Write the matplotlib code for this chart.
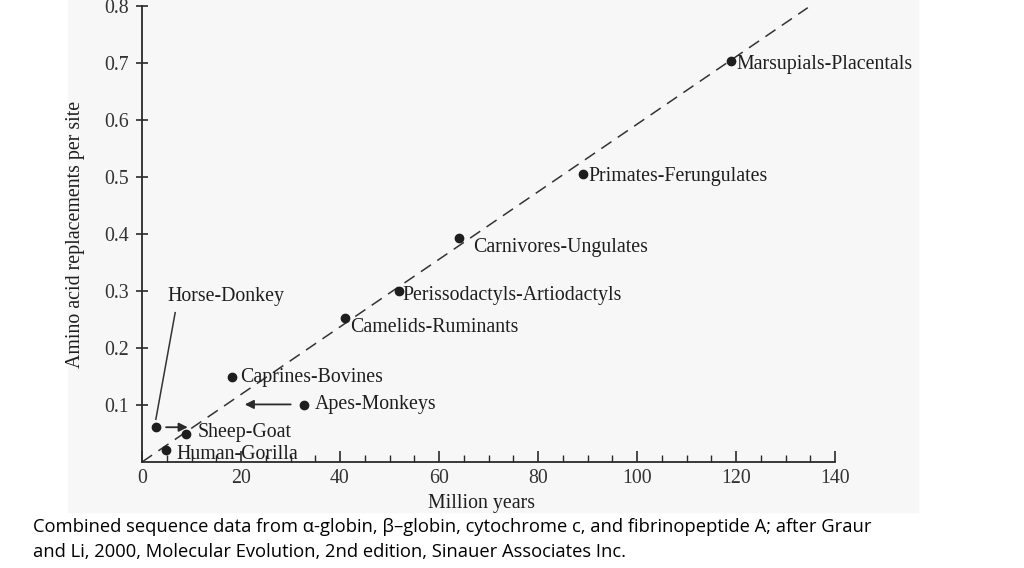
import matplotlib
matplotlib.use("Agg")
import matplotlib.pyplot as plt
from matplotlib.patches import Rectangle

# divergence data (million years, replacements per site)
pairs = ["Human-Gorilla", "Sheep-Goat", "Horse-Donkey", "Caprines-Bovines",
         "Apes-Monkeys", "Camelids-Ruminants", "Perissodactyls-Artiodactyls",
         "Carnivores-Ungulates", "Primates-Ferungulates", "Marsupials-Placentals"]
mya = [4.8, 8.9, 2.8, 18.2, 32.7, 41.0, 52.0, 64.0, 89.0, 119.0]
aa_rep = [0.021, 0.050, 0.061, 0.149, 0.100, 0.253, 0.300, 0.393, 0.505, 0.703]
# label offsets in points (dx, dy)
label_off = [(8, -3.5), (8, 1), None, (6, 0), (8, 0), (4, -7), (2, -3),
             (10, -7), (4, -2), (4, -2)]

fit_x = [0, 134.5]
fit_y = [0, 0.797]

xticks = [0, 20, 40, 60, 80, 100, 120, 140]
yticks = [0.1, 0.2, 0.3, 0.4, 0.5, 0.6, 0.7, 0.8]

serif = ["Liberation Serif", "DejaVu Serif"]
fs = 14.3
ink = "#1e1e1e"

W, H = 1024, 568
fig = plt.figure(figsize=(W / 100, H / 100), dpi=100)
fig.patches.append(Rectangle((68 / W, 1 - 512 / H), (918 - 68) / W, 512 / H,
                             transform=fig.transFigure, color="#f7f7f7", zorder=-5))

ax = fig.add_axes([142 / W, (H - 462) / H, (835 - 142) / W, (462 - 6) / H])
ax.patch.set_alpha(0)
ax.set_xlim(0, 140)
ax.set_ylim(0, 0.8)
for s in ["top", "right"]:
    ax.spines[s].set_visible(False)
for s in ["left", "bottom"]:
    ax.spines[s].set_linewidth(1.3)
    ax.spines[s].set_color("#2a2a2a")

ax.set_xticks(xticks)
ax.set_xticks(range(0, 141, 5), minor=True)
ax.set_yticks(yticks)
ax.set_yticklabels([f"{v:.1f}" for v in yticks])
ax.tick_params(axis="x", which="major", direction="in", length=8, width=1.2,
               color="#2a2a2a", pad=5)
ax.tick_params(axis="x", which="minor", direction="in", length=5, width=1.0,
               color="#2a2a2a")
ax.tick_params(axis="y", which="major", direction="inout", length=9, width=1.2,
               color="#2a2a2a", pad=5)
for lab in ax.get_xticklabels() + ax.get_yticklabels():
    lab.set_fontfamily(serif)
    lab.set_fontsize(fs)
    lab.set_color("#333333")

ax.set_xlabel("Million years", fontfamily=serif, fontsize=fs, color=ink)
ax.set_ylabel("Amino acid replacements per site", fontfamily=serif, fontsize=fs,
              color=ink)
ax.xaxis.set_label_coords(0.49, -0.07)
ax.yaxis.set_label_coords(-0.082, 0.5)

ax.plot(fit_x, fit_y, ls=(0, (8, 5)), color="#333333", lw=1.1, zorder=2)
ax.plot(mya, aa_rep, "o", color=ink, ms=6, zorder=3)

for name, x, y, off in zip(pairs, mya, aa_rep, label_off):
    if off is None:
        continue
    ax.annotate(name, (x, y), xytext=off, textcoords="offset points",
                ha="left", va="center", fontfamily=serif, fontsize=fs, color=ink)

# Horse-Donkey: label up top with leader line, arrow pointing right
ax.text(5.2, 0.29, "Horse-Donkey", ha="left", va="center", fontfamily=serif,
        fontsize=fs, color=ink)
ax.plot([2.8, 6.7], [0.075, 0.262], color="#333333", lw=1.1)
ax.annotate("", xy=(9.8, 0.061), xytext=(4.3, 0.061),
            arrowprops=dict(arrowstyle="-|>", color="#2a2a2a", lw=1.3,
                            mutation_scale=13))
# Apes-Monkeys: arrow pointing left
ax.annotate("", xy=(20.2, 0.101), xytext=(30.6, 0.101),
            arrowprops=dict(arrowstyle="-|>", color="#2a2a2a", lw=1.3,
                            mutation_scale=13))

cap_font = ["Open Sans", "DejaVu Sans"]
fig.text(33 / W, 1 - 527 / H,
         "Combined sequence data from \u03b1-globin, \u03b2\u2013globin, cytochrome c, "
         "and fibrinopeptide A; after Graur",
         ha="left", va="center", fontfamily=cap_font, fontsize=13.2)
fig.text(33 / W, 1 - 552 / H,
         "and Li, 2000, Molecular Evolution, 2nd edition, Sinauer Associates Inc.",
         ha="left", va="center", fontfamily=cap_font, fontsize=13.2)

fig.savefig("out.png", dpi=100)
